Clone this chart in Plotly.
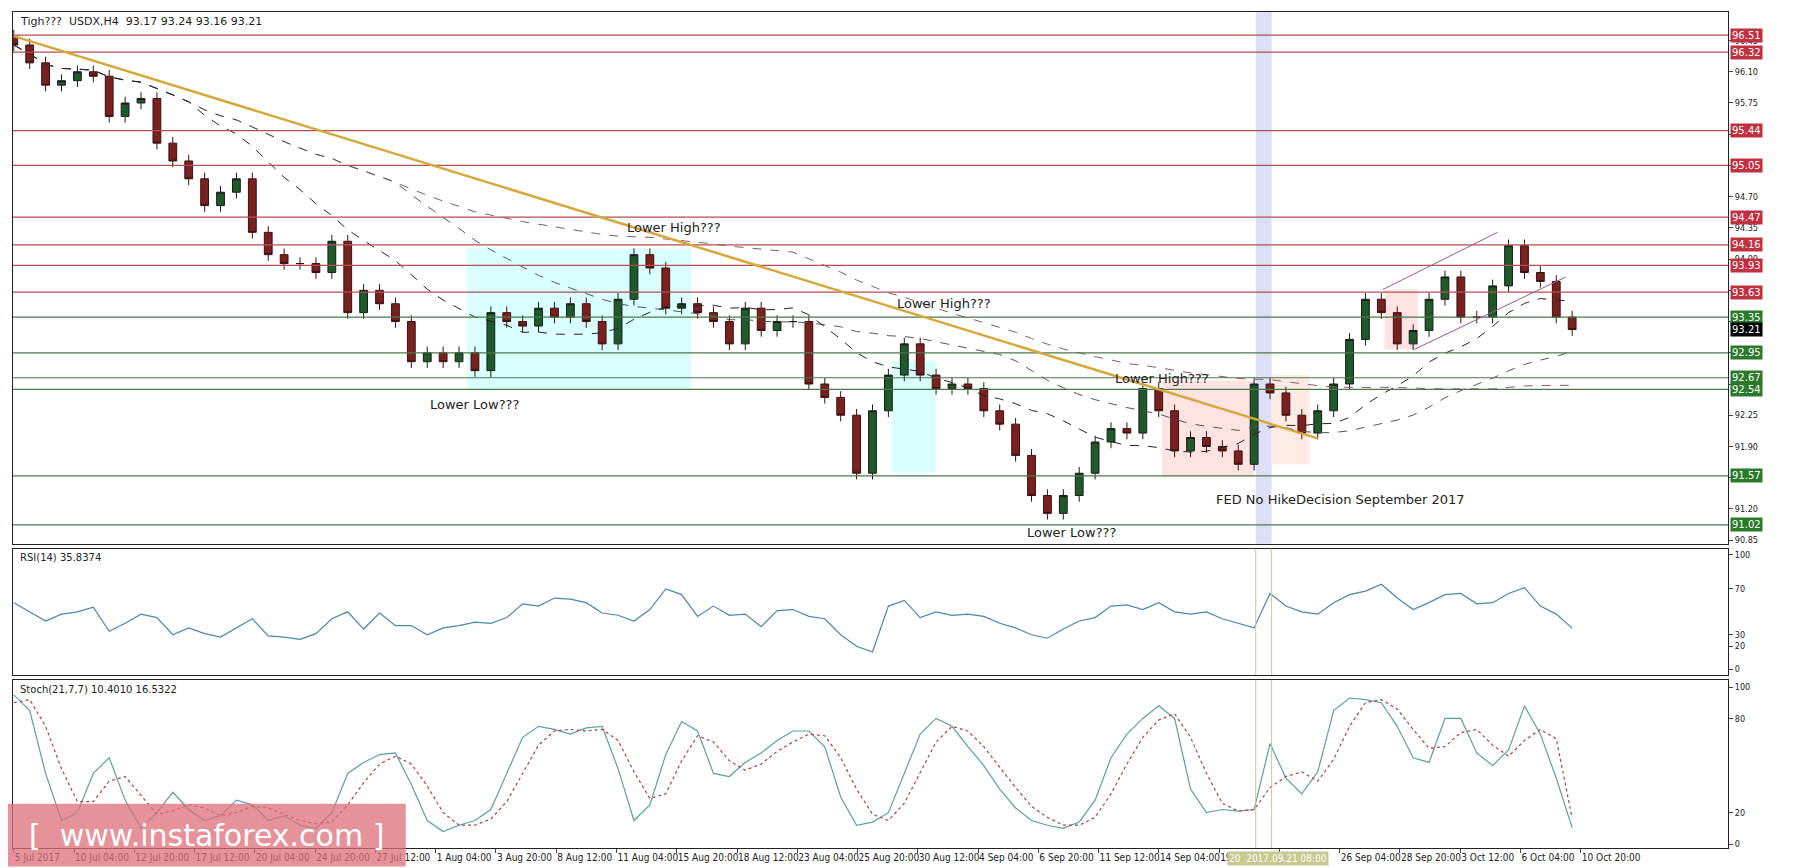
import plotly.graph_objects as go
from plotly.subplots import make_subplots
import pandas as pd

closes = [96.4,96.2,95.95,96.0,96.1,96.05,95.6,95.75,95.8,95.3,95.1,94.9,94.6,94.75,94.9,94.3,94.05,93.95,93.95,93.85,
          94.2,93.4,93.65,93.5,93.3,92.85,92.95,92.85,92.95,92.75,93.4,93.3,93.25,93.45,93.35,93.5,93.3,93.05,93.55,94.05,
          93.9,93.45,93.5,93.4,93.3,93.05,93.45,93.2,93.3,93.3,92.6,92.45,92.25,91.6,92.3,92.7,93.05,92.7,92.55,92.6,
          92.55,92.3,92.15,91.8,91.35,91.15,91.35,91.6,91.95,92.1,92.05,92.55,92.3,91.85,92.0,91.9,91.85,91.7,92.6,92.5,
          92.25,92.05,92.3,92.6,93.1,93.55,93.4,93.05,93.2,93.55,93.8,93.35,93.35,93.7,94.15,93.85,93.75,93.35,93.21]
first_open = 96.5
rsi = [58,50,42,48,50,54,33,40,48,45,30,36,31,28,36,44,29,28,26,31,44,50,35,49,38,38,30,36,38,41,
       40,45,57,55,62,61,58,49,47,42,52,70,65,46,55,47,48,37,51,52,46,44,30,20,15,55,60,45,50,47,
       48,46,40,36,30,27,35,42,45,55,56,52,58,50,48,50,44,40,36,66,55,50,48,58,65,68,74,62,52,58,
       65,66,57,58,66,71,55,48,35.8]
stoch_main = [95,85,45,15,20,45,55,28,10,20,33,22,15,18,28,25,15,18,12,10,20,45,52,57,58,38,15,8,12,15,
              22,45,68,75,73,70,74,75,48,15,25,57,78,72,45,43,52,58,66,72,72,62,30,12,14,20,45,70,80,75,
              62,50,35,23,15,12,10,14,28,55,70,80,88,80,35,20,22,21,22,64,42,32,46,85,93,92,90,75,55,52,
              80,80,58,50,60,88,70,42,10.4]
stoch_signal = [90,92,75,48,27,27,40,43,31,19,21,25,23,18,20,24,23,19,15,13,14,25,39,51,56,51,37,20,12,12,
                16,27,45,63,72,73,72,73,66,46,29,32,53,69,65,53,47,51,59,65,70,69,55,35,19,15,26,45,65,75,
                72,62,49,36,24,17,12,12,17,32,51,68,79,83,68,45,26,21,22,36,43,46,40,54,75,90,92,86,73,61,
                62,71,73,63,56,66,73,67,16.5]
tick_labels = ["5 Jul 2017","10 Jul 04:00","12 Jul 20:00","17 Jul 12:00","20 Jul 04:00","24 Jul 20:00","27 Jul 12:00",
               "1 Aug 04:00","3 Aug 20:00","8 Aug 12:00","11 Aug 04:00","15 Aug 20:00","18 Aug 12:00","23 Aug 04:00",
               "25 Aug 20:00","30 Aug 12:00","4 Sep 04:00","6 Sep 20:00","11 Sep 12:00","14 Sep 04:00","19 Sep 20:00",
               "","26 Sep 04:00","28 Sep 20:00","3 Oct 12:00","6 Oct 04:00","10 Oct 20:00"]
red_levels = [96.51,96.32,95.44,95.05,94.47,94.16,93.93,93.63]
green_levels = [93.35,92.95,92.67,92.54,91.57,91.02]
last_price = 93.21

n = len(closes)
x = list(range(n))
opens = [first_open] + closes[:-1]
highs = [max(o, c) + 0.07 for o, c in zip(opens, closes)]
lows = [min(o, c) - 0.07 for o, c in zip(opens, closes)]
s = pd.Series(closes)
ma_fast = s.rolling(12, min_periods=1).mean()
ma_mid = s.rolling(25, min_periods=1).mean()
ma_slow = s.rolling(50, min_periods=1).mean()

fig = make_subplots(rows=3, cols=1, shared_xaxes=True, vertical_spacing=0.006,
                    row_heights=[0.636, 0.151, 0.201])
FONT = "DejaVu Sans"
NARROW = "Liberation Sans Narrow, DejaVu Sans Condensed, Liberation Sans"

boxes = [(28.5, 42.6, 94.12, 92.54, "rgba(180,255,255,0.5)"),
         (55.2, 58.0, 92.86, 91.61, "rgba(180,255,255,0.5)"),
         (72.2, 78.0, 92.64, 91.56, "rgba(255,200,200,0.5)"),
         (79.1, 81.5, 92.70, 91.70, "rgba(255,215,200,0.5)"),
         (86.2, 88.3, 93.66, 92.99, "rgba(255,200,200,0.5)")]
for x0, x1, y0, y1, col in boxes:
    fig.add_shape(type="rect", x0=x0, x1=x1, y0=y0, y1=y1, fillcolor=col, line_width=0,
                  layer="below", row=1, col=1)
for lv in red_levels:
    fig.add_hline(y=lv, line=dict(color="#b05050", width=1.2), row=1, col=1)
for lv in green_levels:
    fig.add_hline(y=lv, line=dict(color="#4a7a4a", width=1.2), row=1, col=1)

fig.add_trace(go.Scatter(x=x, y=ma_slow, mode="lines", line=dict(color="#8a5a5a", width=1, dash="dash"),
                         showlegend=False, hoverinfo="skip"), row=1, col=1)
fig.add_trace(go.Scatter(x=x, y=ma_mid, mode="lines", line=dict(color="#555", width=1, dash="dash"),
                         showlegend=False, hoverinfo="skip"), row=1, col=1)
fig.add_trace(go.Scatter(x=x, y=ma_fast, mode="lines", line=dict(color="#222", width=1, dash="dash"),
                         showlegend=False, hoverinfo="skip"), row=1, col=1)
fig.add_trace(go.Candlestick(x=x, open=opens, high=highs, low=lows, close=closes,
                             increasing=dict(line=dict(color="#1a1a1a", width=1), fillcolor="#1f5a2a"),
                             decreasing=dict(line=dict(color="#3a1010", width=1), fillcolor="#7a2020"),
                             whiskerwidth=0, showlegend=False), row=1, col=1)
fig.add_shape(type="line", x0=0, y0=96.5, x1=82, y1=91.99, line=dict(color="#d4a83a", width=2.5), row=1, col=1)
fig.add_shape(type="line", x0=86.1, y0=93.66, x1=93.3, y1=94.30, line=dict(color="#a050a0", width=1), row=1, col=1)
fig.add_shape(type="line", x0=88.1, y0=92.99, x1=97.6, y1=93.80, line=dict(color="#a050a0", width=1), row=1, col=1)

for lv in [80, 70, 30, 20]:
    fig.add_hline(y=lv, line=dict(color="#bbb", width=1, dash="dot"), row=2, col=1)
fig.add_trace(go.Scatter(x=x, y=rsi, mode="lines", line=dict(color="#4a86b0", width=1.2),
                         showlegend=False), row=2, col=1)
for lv in [80, 20]:
    fig.add_hline(y=lv, line=dict(color="#bbb", width=1, dash="dot"), row=3, col=1)
fig.add_trace(go.Scatter(x=x, y=stoch_main, mode="lines", line=dict(color="#5aa0a0", width=1.2),
                         showlegend=False), row=3, col=1)
fig.add_trace(go.Scatter(x=x, y=stoch_signal, mode="lines", line=dict(color="#b04040", width=1.2, dash="dot"),
                         showlegend=False), row=3, col=1)

fig.add_vrect(x0=78.1, x1=79.1, fillcolor="rgba(200,200,240,0.6)", line_width=0, layer="below", row=1, col=1)
for xv in [78.1, 79.1]:
    for r in [2, 3]:
        fig.add_vline(x=xv, line=dict(color="#c8c890", width=1), row=r, col=1)

anns = [(41.5, 94.36, "Lower High???"), (58.5, 93.5, "Lower High???"), (72.2, 92.66, "Lower High???"),
        (29, 92.37, "Lower Low???"), (66.5, 90.93, "Lower Low???"),
        (83.4, 91.3, "FED No HikeDecision September 2017")]
for ax, ay, t in anns:
    fig.add_annotation(x=ax, y=ay, text=t, showarrow=False, font=dict(family=FONT, size=13, color="#222"),
                       row=1, col=1)

def rlabel(y, text, bg):
    fig.add_annotation(x=1.0, xref="paper", y=y, yref="y", text=text, showarrow=False, xanchor="left",
                       xshift=2, bgcolor=bg, font=dict(family=FONT, size=10, color="white"), borderpad=1)
for lv in red_levels:
    rlabel(lv, f"{lv:.2f}", "#c03040")
for lv in green_levels:
    rlabel(lv, f"{lv:.2f}", "#2a7a2a")
rlabel(last_price, f"{last_price:.2f}", "#000")

fig.add_annotation(x=0.003, y=0.999, xref="paper", yref="paper", xanchor="left", yanchor="top",
                   text="Tigh???  USDX,H4  93.17 93.24 93.16 93.21", showarrow=False,
                   font=dict(family=FONT, size=11, color="#222"))
fig.add_annotation(x=0.003, y=0.356, xref="paper", yref="paper", xanchor="left", yanchor="top",
                   text="RSI(14) 35.8374", showarrow=False, font=dict(family=FONT, size=10, color="#222"))
fig.add_annotation(x=0.003, y=0.199, xref="paper", yref="paper", xanchor="left", yanchor="top",
                   text="Stoch(21,7,7) 10.4010 16.5322", showarrow=False, font=dict(family=FONT, size=10, color="#222"))
fig.add_shape(type="rect", xref="paper", yref="paper", x0=-0.003, x1=0.229, y0=-0.022, y1=0.053,
              fillcolor="rgba(220,110,120,0.75)", line_width=0)
fig.add_annotation(x=0.113, y=0.015, xref="paper", yref="paper", xanchor="center", yanchor="middle",
                   text="[  www.instaforex.com ]",
                   showarrow=False, font=dict(family=FONT, size=30, color="white"))
fig.add_annotation(x=79.5, y=0, yref="paper", xref="x3", text="20  2017.09.21 08:00", showarrow=False,
                   xanchor="center", yanchor="top", yshift=-3,
                   bgcolor="#c8c890", font=dict(family=NARROW, size=10, color="white"))

tickvals = [i * 3.79 for i in range(len(tick_labels))]
ax_common = dict(range=[-0.05, 107.8], showgrid=False, zeroline=False, showline=True, linecolor="#222",
                 mirror=True, rangeslider=dict(visible=False))
fig.update_xaxes(**ax_common)
fig.update_xaxes(tickvals=tickvals, ticktext=tick_labels, ticks="outside", ticklen=4, tickangle=0,
                 ticklabelposition="outside right", tickfont=dict(family=NARROW, size=10, color="#222"), row=3, col=1)
yc = dict(side="right", showgrid=False, zeroline=False, showline=True, linecolor="#222", mirror=True,
          ticks="outside", ticklen=4, tickfont=dict(family=NARROW, size=9, color="#222"))
fig.update_yaxes(range=[90.81, 96.77], tickvals=[90.85 + 0.35 * i for i in range(18)], tickformat=".2f", row=1, col=1, **yc)
fig.update_yaxes(range=[-5, 105], tickvals=[0, 20, 30, 70, 100], row=2, col=1, **yc)
fig.update_yaxes(range=[-2.5, 104.5], tickvals=[0, 20, 80, 100], row=3, col=1, **yc)
fig.update_layout(width=1800, height=868, margin=dict(l=5, r=80, t=4, b=28), plot_bgcolor="white",
                  paper_bgcolor="white", showlegend=False, xaxis_rangeslider_visible=False)
fig.write_html("out.html")
